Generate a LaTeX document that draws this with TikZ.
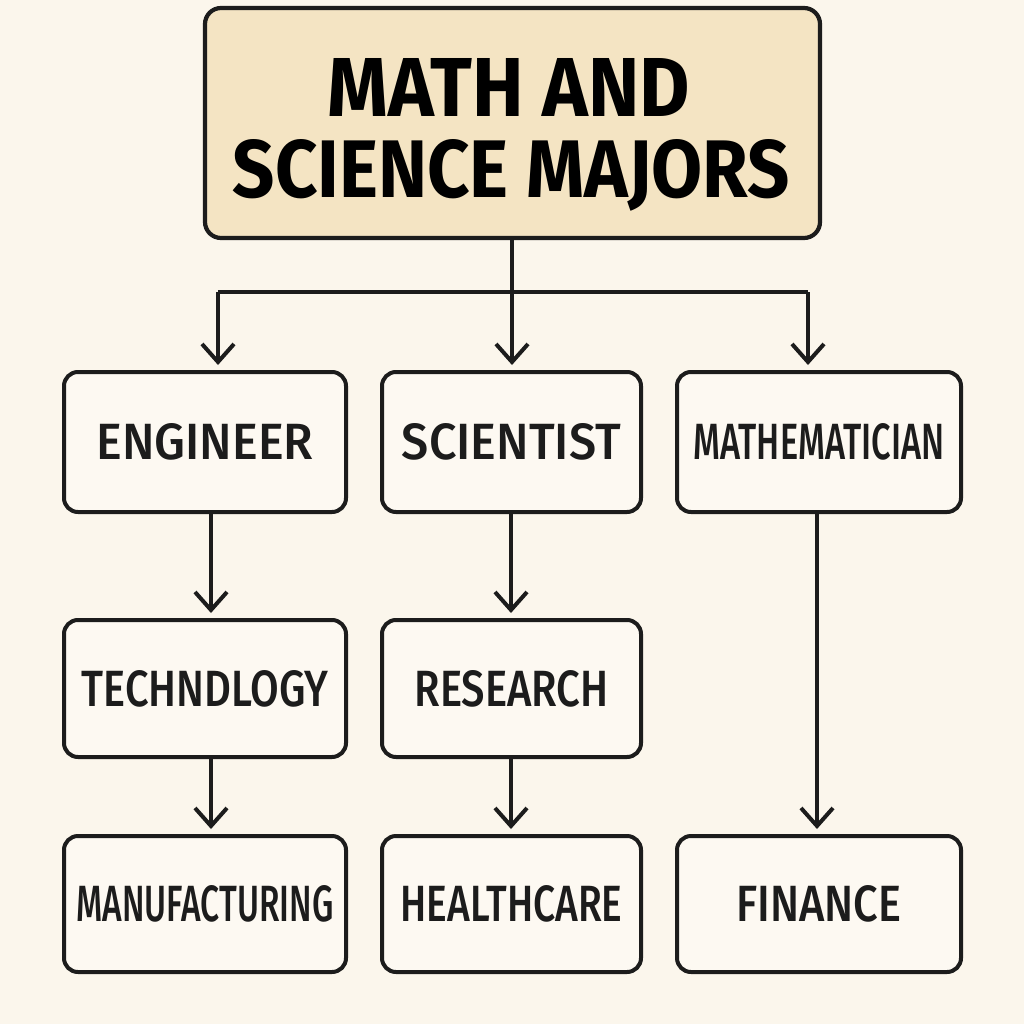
\documentclass[tikz,border=0pt]{standalone}
\usepackage{fontspec}
\usepackage{graphicx}
\setmainfont{Fira Sans}
\newfontfamily\titlefont{Fira Sans}[UprightFont=* Bold]
\newfontfamily\lblfont{Fira Sans}[UprightFont=* Medium]
\usetikzlibrary{arrows.meta}
\definecolor{bg}{HTML}{FBF6EC}
\definecolor{topfill}{HTML}{F4E4C3}
\definecolor{boxfill}{HTML}{FDF9F2}
\definecolor{ink}{HTML}{1C1C1C}
\newcommand{\lbl}[3]{\resizebox{#1pt}{#2pt}{\lblfont #3}}
\newcommand{\ttl}[3]{\resizebox{#1pt}{#2pt}{\titlefont #3}}
\begin{document}
\begin{tikzpicture}[x=1pt,y=-1pt,
  box/.style={draw=ink,fill=boxfill,line width=4pt,rounded corners=14pt,inner sep=0pt,minimum height=138pt,text=ink},
  topbox/.style={draw=ink,fill=topfill,line width=4.2pt,rounded corners=16pt,inner sep=0pt,minimum width=615pt,minimum height=230pt,text=ink,align=center},
  conn/.style={draw=ink,line width=4pt},
  arr/.style={conn,-{Straight Barb[length=18pt,width=32pt]},shorten >=5pt}]
\useasboundingbox (0,0) rectangle (1024,1024);
\fill[bg] (0,0) rectangle (1024,1024);
\node[topbox] (top) at (512.5,123) {};
\node (t1) at (509,88) {\ttl{362}{58}{MATH AND}};
\node (t2) at (511.5,175) {\ttl{557}{58}{SCIENCE MAJORS}};
\node[box,minimum width=282pt,minimum height=140pt] (eng) at (205,442) {\lbl{217}{36}{ENGINEER}};
\node[box,minimum width=259pt,minimum height=140pt] (sci) at (511.5,442) {\lbl{219}{36}{SCIENTIST}};
\node[box,minimum width=284pt,minimum height=140pt] (math) at (819,442) {\lbl{251}{36}{MATHEMATICIAN}};
\node[box,minimum width=282pt,minimum height=137pt] (tech) at (205,688.5) {\lbl{247}{36}{TECHNDLOGY}};
\node[box,minimum width=259pt,minimum height=137pt] (res) at (511.5,688.5) {\lbl{194}{36}{RESEARCH}};
\node[box,minimum width=282pt,minimum height=136pt] (man) at (205,904) {\lbl{257}{36}{MANUFACTURING}};
\node[box,minimum width=259pt,minimum height=136pt] (hea) at (511.5,904) {\lbl{222}{36}{HEALTHCARE}};
\node[box,minimum width=284pt,minimum height=136pt] (fin) at (819,904) {\lbl{165}{36}{FINANCE}};
\coordinate (jm) at (512,292);
\coordinate (jl) at (218,292);
\coordinate (jr) at (808,292);
\draw[conn] (top.south -| jm) -- (jm);
\draw[conn] (jl) -- (jr);
\draw[arr] (jl) -- (jl |- eng.north);
\draw[arr] (jm) -- (jm |- sci.north);
\draw[arr] (jr) -- (jr |- math.north);
\draw[arr] ([xshift=6pt]eng.south) -- ([xshift=6pt]tech.north);
\draw[arr] ([xshift=-0.5pt]sci.south) -- ([xshift=-0.5pt]res.north);
\draw[arr] ([xshift=6pt]tech.south) -- ([xshift=6pt]man.north);
\draw[arr] ([xshift=-0.5pt]res.south) -- ([xshift=-0.5pt]hea.north);
\draw[arr] ([xshift=-2pt]math.south) -- ([xshift=-2pt]fin.north);
\end{tikzpicture}
\end{document}
